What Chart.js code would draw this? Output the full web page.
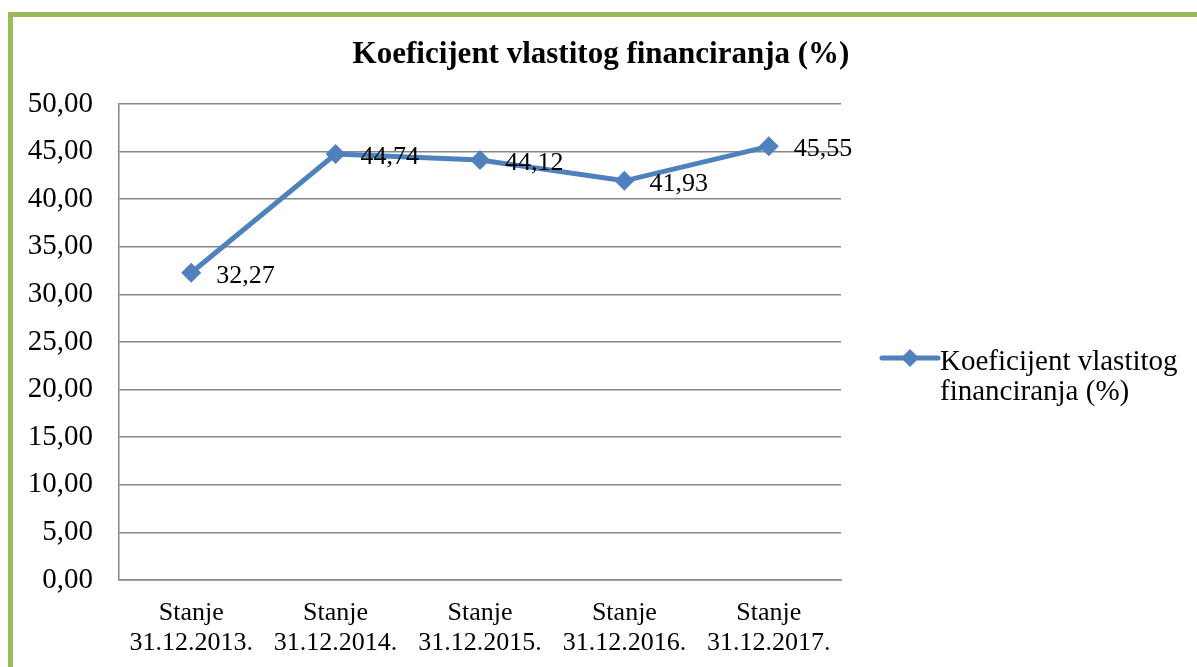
<!DOCTYPE html>
<html>
<head>
<meta charset="utf-8">
<script src="https://cdn.jsdelivr.net/npm/chart.js@4.4.1/dist/chart.umd.min.js"></script>
<style>
    html, body { margin: 0; padding: 0; background: #fff; overflow: hidden; }
    .okvir {
        position: absolute; left: 8px; top: 12px; width: 1300px; height: 800px;
        border-top: 5px solid #9BBB59; border-left: 5px solid #9BBB59;
    }
    #chart { position: absolute; left: 0; top: 0; }
</style>
</head>
<body>
<div class="okvir"></div>
<canvas id="chart" width="1197" height="667"></canvas>
<script>
const naslov = 'Koeficijent vlastitog financiranja (%)';
const kategorije = [
    ['Stanje', '31.12.2013.'],
    ['Stanje', '31.12.2014.'],
    ['Stanje', '31.12.2015.'],
    ['Stanje', '31.12.2016.'],
    ['Stanje', '31.12.2017.']
];
const vrijednosti = [32.27, 44.74, 44.12, 41.93, 45.55];
const legendaTekst = ['Koeficijent vlastitog', 'financiranja (%)'];

const plava = '#4F81BD';
const font = '"Liberation Serif", "Times New Roman", serif';

const fmt = (v) => v.toFixed(2).replace('.', ',');

// naslov, oznake podataka i legenda crtaju se rucno
const dodaci = {
    id: 'dodaci',
    afterDatasetsDraw(chart) {
        const ctx = chart.ctx;
        const meta = chart.getDatasetMeta(0);
        ctx.save();
        ctx.fillStyle = '#000';
        ctx.font = '26px ' + font;
        ctx.textAlign = 'left';
        ctx.textBaseline = 'middle';
        meta.data.forEach((p, i) => {
            ctx.fillText(fmt(vrijednosti[i]), p.x + 25, p.y + 3);
        });

        ctx.font = 'bold 31px ' + font;
        ctx.textAlign = 'center';
        ctx.fillText(naslov, 601, 55);

        // legenda
        const ly = 358;
        ctx.strokeStyle = plava;
        ctx.lineWidth = 5;
        ctx.lineCap = 'round';
        ctx.beginPath();
        ctx.moveTo(882, ly);
        ctx.lineTo(938, ly);
        ctx.stroke();
        ctx.fillStyle = plava;
        ctx.beginPath();
        ctx.moveTo(910, ly - 9);
        ctx.lineTo(919, ly);
        ctx.lineTo(910, ly + 9);
        ctx.lineTo(901, ly);
        ctx.closePath();
        ctx.fill();
        ctx.fillStyle = '#000';
        ctx.font = '29px ' + font;
        ctx.textAlign = 'left';
        ctx.fillText(legendaTekst[0], 940, 362);
        ctx.fillText(legendaTekst[1], 940, 392);
        ctx.restore();
    }
};

new Chart(document.getElementById('chart').getContext('2d'), {
    type: 'line',
    data: {
        labels: kategorije,
        datasets: [{
            label: naslov,
            data: vrijednosti,
            borderColor: plava,
            backgroundColor: plava,
            borderWidth: 5,
            pointStyle: 'rectRot',
            pointRadius: 10,
            pointHoverRadius: 10,
            pointBorderWidth: 0,
            tension: 0
        }]
    },
    options: {
        responsive: false,
        animation: false,
        layout: { padding: { left: 0, top: 104, right: 356, bottom: 0 } },
        plugins: {
            legend: { display: false },
            title: { display: false },
            tooltip: { enabled: false }
        },
        scales: {
            x: {
                offset: true,
                grid: { display: false, drawTicks: false },
                border: { color: '#868686', width: 1.5 },
                ticks: {
                    color: '#000',
                    padding: 18,
                    maxRotation: 0,
                    autoSkip: false,
                    font: { family: font, size: 26, lineHeight: 1.17 }
                },
                afterFit(scale) { scale.height = 87; }
            },
            y: {
                min: 0,
                max: 50,
                grid: { color: '#868686', lineWidth: 1.5, drawTicks: false },
                border: { color: '#868686', width: 1.5 },
                ticks: {
                    stepSize: 5,
                    color: '#000',
                    padding: 26,
                    font: { family: font, size: 29 },
                    callback: (v) => fmt(v)
                },
                afterFit(scale) { scale.width = 119; }
            }
        }
    },
    plugins: [dodaci]
});
</script>
</body>
</html>
